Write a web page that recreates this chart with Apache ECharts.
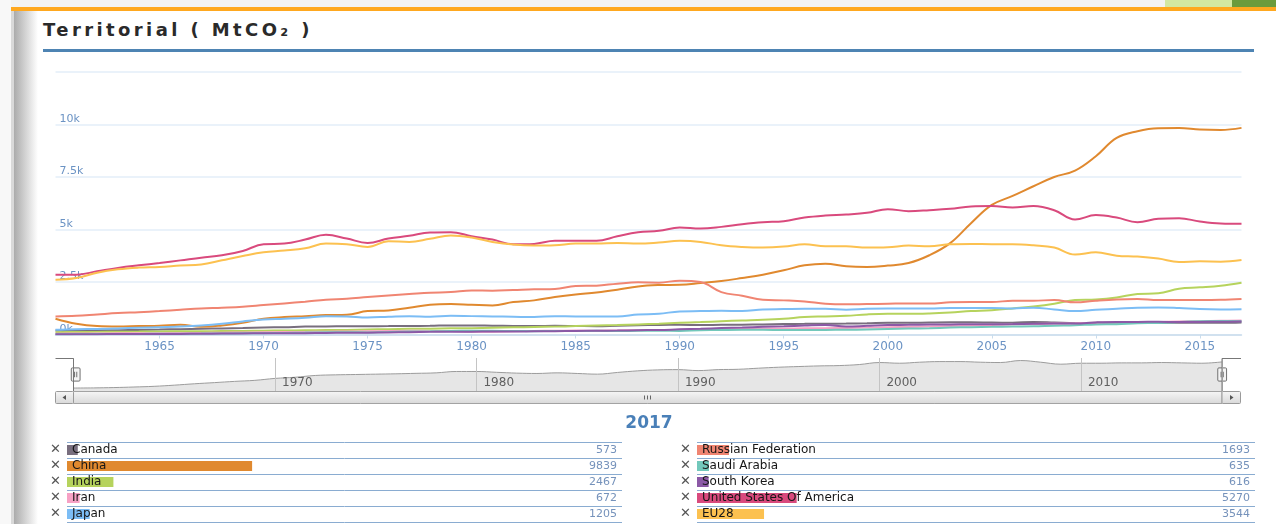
<!DOCTYPE html>
<html>
<head>
<meta charset="utf-8">
<title>Territorial ( MtCO₂ )</title>
<script src="https://cdn.jsdelivr.net/npm/echarts@6/dist/echarts.min.js"></script>
<style>
html,body{margin:0;padding:0;background:#fff;}
#page{position:relative;width:1276px;height:524px;overflow:hidden;background:#fff;}
#topbar{position:absolute;left:0;top:0;width:1276px;height:7px;background:#f3f3f3;}
#green1{position:absolute;left:1165px;top:0;width:67px;height:7px;background:#d3e8a2;}
#green2{position:absolute;left:1232px;top:0;width:44px;height:7px;background:#6b9b3c;}
#orange{position:absolute;left:11px;top:7px;width:1265px;height:4px;background:#ffa81f;}
#leftedge{position:absolute;left:0;top:0;width:11px;height:524px;background:#f8f8f8;}
#leftstrip{position:absolute;left:11px;top:11px;width:3px;height:513px;background:#d9d9d9;}
#shadow{position:absolute;left:14px;top:11px;width:24px;height:513px;background:linear-gradient(to right,#ababab,rgba(255,255,255,0));}
#title{position:absolute;left:43px;top:19px;font:bold 18px "DejaVu Sans",sans-serif;letter-spacing:3.4px;color:#2a2a2a;white-space:nowrap;}
#rule{position:absolute;left:43px;top:49px;width:1211px;height:3px;background:#4e84b3;}
#chart{position:absolute;left:0;top:0;width:1276px;height:524px;}
</style>
</head>
<body>
<div id="page">
  <div id="topbar"></div>
  <div id="green1"></div>
  <div id="green2"></div>
  <div id="orange"></div>
  <div id="leftedge"></div>
  <div id="leftstrip"></div>
  <div id="shadow"></div>
  <div id="title">Territorial ( MtCO₂ )</div>
  <div id="rule"></div>
  <div id="chart"></div>
</div>
<script>
// years 1960 .. 2017
var years = [];
for (var y = 1960; y <= 2017; y++) years.push(y);

var names = ['Canada', 'China', 'India', 'Iran', 'Japan',
    'Russian Federation', 'Saudi Arabia', 'South Korea', 'United States Of America', 'EU28'];
var colors = ['#786e7e', '#e0892f', '#b6d35d', '#f7a1c5', '#7cbdf5',
    '#f08572', '#72c8bb', '#8c59a6', '#d94a7d', '#fcc150'];

var canada = [193,195,200,208,218,235,255,272,290,305,
    333,350,376,385,390,395,400,407,414,434,
    434,422,410,405,414,405,395,420,443,457,
    461,447,461,466,482,496,506,515,520,535,
    564,554,569,578,578,569,564,593,569,540,
    554,554,559,559,564,559,554,573];
var china = [750,510,400,380,400,415,460,365,430,555,
    750,830,875,925,940,1115,1145,1275,1415,1450,
    1415,1385,1545,1625,1785,1910,2005,2135,2290,2355,
    2370,2450,2545,2690,2850,3055,3295,3375,3250,3215,
    3280,3405,3775,4350,5300,6170,6600,7060,7500,7805,
    8490,9360,9680,9820,9830,9760,9740,9839];
var india = [110,118,125,133,138,148,150,155,165,170,
    180,190,200,210,220,240,255,270,275,295,
    300,320,340,360,375,400,425,450,480,515,
    555,590,635,670,700,750,830,860,890,955,
    985,985,1005,1050,1115,1160,1240,1335,1465,1640,
    1670,1765,1925,1960,2180,2245,2325,2467];
var iran = [40,45,50,55,60,65,70,75,85,95,
    105,115,125,135,140,150,165,175,170,165,
    130,135,150,170,175,185,180,195,205,215,
    225,240,250,265,280,285,295,300,310,330,
    345,360,385,405,425,450,480,500,520,535,
    560,575,590,600,625,630,650,672];
var japan = [225,255,265,290,320,350,380,430,510,620,
    715,750,795,875,860,810,845,875,845,890,
    875,860,845,830,875,860,860,860,955,985,
    1100,1115,1130,1115,1195,1210,1225,1225,1180,1225,
    1240,1240,1240,1260,1260,1260,1240,1275,1195,1115,
    1180,1225,1275,1290,1260,1210,1195,1205];
var russia = [860,890,955,1020,1065,1115,1180,1240,1275,1320,
    1400,1480,1560,1655,1705,1785,1860,1925,1990,2020,
    2100,2085,2115,2150,2165,2310,2325,2420,2485,2470,
    2565,2500,2020,1845,1655,1625,1575,1465,1435,1450,
    1465,1480,1480,1530,1545,1545,1610,1610,1640,1530,
    1610,1670,1690,1640,1640,1640,1650,1693];
var saudi = [15,18,22,25,28,32,38,42,48,55,
    60,75,90,110,110,100,120,140,150,170,
    175,180,165,160,170,165,175,165,175,180,
    170,200,215,225,225,215,215,220,225,240,
    260,280,300,330,350,365,380,390,420,440,
    480,490,540,550,600,630,640,635];
var southKorea = [12,14,17,19,21,24,29,36,44,51,
    56,62,64,75,80,87,95,110,125,135,
    135,140,140,150,160,170,180,185,205,215,
    245,270,305,335,365,395,425,450,380,415,
    450,460,475,480,490,490,495,510,520,520,
    575,600,600,605,595,600,605,616];
var usa = [2850,2850,3010,3170,3295,3405,3530,3660,3770,3980,
    4300,4330,4520,4745,4570,4360,4570,4700,4855,4870,
    4680,4520,4300,4315,4460,4460,4460,4680,4870,4935,
    5095,5045,5125,5255,5350,5395,5570,5665,5715,5795,
    5970,5875,5920,5985,6095,6115,6050,6115,5920,5475,
    5685,5570,5350,5510,5540,5380,5285,5270];
var eu28 = [2610,2690,2945,3105,3185,3215,3280,3330,3535,3740,
    3915,3995,4105,4330,4300,4170,4440,4410,4555,4710,
    4615,4410,4280,4235,4250,4330,4330,4360,4330,4380,
    4460,4410,4250,4170,4140,4185,4300,4200,4200,4140,
    4155,4235,4200,4300,4315,4300,4300,4250,4140,3805,
    3915,3755,3710,3615,3455,3485,3470,3544];

var allData = [canada, china, india, iran, japan, russia, saudi, southKorea, usa, eu28];

function pairs(arr) {
    var out = [];
    for (var i = 0; i < years.length; i++) {
        out.push([years[i], arr[i]]);
    }
    return out;
}

function yearLabel(v) { return String(v); }

var axisBlue = '#6b93c4';
var font = 'DejaVu Sans';

var series = [];
for (var i = 0; i < names.length; i++) {
    series.push({
        name: names[i],
        type: 'line',
        xAxisIndex: 0,
        yAxisIndex: 0,
        data: pairs(allData[i]),
        smooth: 0.4,
        showSymbol: false,
        lineStyle: { color: colors[i], width: 2 },
        itemStyle: { color: colors[i] },
        z: 2 + i
    });
}

// navigator (shows the first series)
series.push({
    type: 'line',
    xAxisIndex: 1,
    yAxisIndex: 1,
    data: pairs(canada),
    smooth: 0.4,
    showSymbol: false,
    silent: true,
    lineStyle: { color: '#9c9c9c', width: 1 },
    areaStyle: { color: '#e6e6e6', opacity: 1 }
});

// 2017 table, two columns of five rows
function tableSeries(start, gridNo) {
    var rows = [];
    for (var i = start; i < start + 5; i++) {
        rows.push({ name: names[i], value: allData[i][allData[i].length - 1], itemStyle: { color: colors[i] } });
    }
    return {
        type: 'bar',
        xAxisIndex: gridNo,
        yAxisIndex: gridNo == 2 ? 2 : 4,
        data: rows,
        barWidth: 10,
        silent: true,
        label: {
            show: true,
            position: 'insideLeft',
            distance: 5,
            formatter: '{b}',
            color: '#161616',
            fontSize: 12,
            fontFamily: font
        }
    };
}
series.push(tableSeries(0, 2));
series.push(tableSeries(5, 3));

function lastValues(start) {
    var out = [];
    for (var i = start; i < start + 5; i++) out.push(String(allData[i][allData[i].length - 1]));
    return out;
}

function tableAxes(start, gridNo) {
    return [{
        gridIndex: gridNo,
        type: 'category',
        inverse: true,
        data: names.slice(start, start + 5),
        axisLine: { show: false },
        axisTick: { show: false },
        axisLabel: {
            interval: 0,
            margin: 6,
            formatter: function () { return '✕'; },
            color: '#555',
            fontSize: 13,
            fontFamily: font
        },
        splitLine: { show: true, interval: 0, lineStyle: { color: '#8aacd1', width: 1 } }
    }, {
        gridIndex: gridNo,
        type: 'category',
        position: 'right',
        inverse: true,
        data: lastValues(start),
        axisLine: { show: false },
        axisTick: { show: false },
        splitLine: { show: false },
        axisLabel: { interval: 0, inside: true, margin: 5, color: '#7592bb', fontSize: 11, fontFamily: font }
    }];
}

var grad = {
    type: 'linear', x: 0, y: 0, x2: 0, y2: 1,
    colorStops: [{ offset: 0, color: '#f7f7f7' }, { offset: 1, color: '#d8d8d8' }]
};

var option = {
    animation: false,
    textStyle: { fontFamily: font },
    grid: [
        { left: 55.5, top: 72, width: 1186, height: 262.5, outerBoundsMode: 'none' },
        { left: 73.5, top: 358, width: 1148.5, height: 33, outerBoundsMode: 'none' },
        { left: 67, top: 442, width: 555, height: 80, outerBoundsMode: 'none' },
        { left: 697, top: 442, width: 558, height: 80, outerBoundsMode: 'none' }
    ],
    xAxis: [{
        gridIndex: 0,
        type: 'value',
        min: 1960,
        max: 2017,
        interval: 5,
        axisLine: { show: true, lineStyle: { color: '#c9dcec', width: 1.5 } },
        axisTick: { show: true, length: 4, lineStyle: { color: '#c9dcec' } },
        splitLine: { show: false },
        axisLabel: {
            showMinLabel: false, showMaxLabel: false, margin: 6,
            color: axisBlue, fontSize: 12, formatter: yearLabel
        }
    }, {
        gridIndex: 1,
        type: 'value',
        min: 1960,
        max: 2017,
        interval: 10,
        z: 5,
        axisLine: { show: false },
        axisTick: { show: false },
        splitLine: { show: true, lineStyle: { color: '#c4c4c4', width: 1 } },
        axisLabel: {
            inside: true, showMinLabel: false, showMaxLabel: false,
            align: 'left', verticalAlign: 'bottom', margin: 2, padding: [0, 0, 0, 7],
            color: '#606060', fontSize: 12, formatter: yearLabel
        }
    }, {
        gridIndex: 2, type: 'value', min: 0, max: 29500, show: false
    }, {
        gridIndex: 3, type: 'value', min: 0, max: 29500, show: false
    }],
    yAxis: [{
        gridIndex: 0,
        type: 'value',
        min: 0,
        max: 12500,
        interval: 2500,
        axisLine: { show: false },
        axisTick: { show: false },
        splitLine: { show: true, lineStyle: { color: '#e3eef8', width: 1.5 } },
        axisLabel: {
            inside: true, showMaxLabel: false, verticalAlign: 'bottom', margin: 4,
            color: axisBlue, fontSize: 11,
            formatter: function (v) { return (v / 1000) + 'k'; }
        }
    }, {
        gridIndex: 1, type: 'value', min: 150, max: 630, show: false
    }].concat(tableAxes(0, 2)).concat(tableAxes(5, 3)),
    dataZoom: [{
        type: 'slider',
        xAxisIndex: 0,
        filterMode: 'none',
        left: 73.5,
        width: 1148.5,
        top: 358,
        height: 33,
        start: 0,
        end: 100,
        showDetail: false,
        showDataShadow: false,
        brushSelect: false,
        backgroundColor: 'rgba(0,0,0,0)',
        fillerColor: 'rgba(0,0,0,0)',
        borderColor: 'rgba(0,0,0,0)',
        handleIcon: 'path://M1.5,0.5 H7.5 Q8.5,0.5 8.5,1.5 V11.5 Q8.5,12.5 7.5,12.5 H1.5 Q0.5,12.5 0.5,11.5 V1.5 Q0.5,0.5 1.5,0.5 Z M3.5,4 V9 M5.5,4 V9',
        handleSize: '40%',
        handleStyle: { color: '#f4f4f4', borderColor: '#707070', borderWidth: 1 },
        moveHandleSize: 0,
        moveHandleStyle: { opacity: 0 },
        emphasis: {
            handleStyle: { color: '#f4f4f4', borderColor: '#707070', borderWidth: 1 },
            moveHandleStyle: { opacity: 0 }
        }
    }],
    graphic: [
        // navigator outline
        { type: 'polyline', z: 100, shape: { points: [[55.5, 358.5], [73.5, 358.5], [73.5, 391]] },
          style: { stroke: '#777', lineWidth: 1, fill: null } },
        { type: 'polyline', z: 100, shape: { points: [[1222, 391], [1222, 358.5], [1241, 358.5]] },
          style: { stroke: '#777', lineWidth: 1, fill: null } },
        // scrollbar
        { type: 'rect', z: 100, shape: { x: 73.5, y: 391.5, width: 1148.5, height: 12 },
          style: { fill: grad, stroke: '#a3a3a3', lineWidth: 1 } },
        { type: 'rect', z: 100, shape: { x: 55.5, y: 391.5, width: 18, height: 12, r: 1 },
          style: { fill: grad, stroke: '#9a9a9a', lineWidth: 1 } },
        { type: 'rect', z: 100, shape: { x: 1222, y: 391.5, width: 18.5, height: 12, r: 1 },
          style: { fill: grad, stroke: '#9a9a9a', lineWidth: 1 } },
        { type: 'polygon', z: 101, shape: { points: [[66, 395], [66, 400], [62.5, 397.5]] }, style: { fill: '#555' } },
        { type: 'polygon', z: 101, shape: { points: [[1230, 395], [1230, 400], [1233.5, 397.5]] }, style: { fill: '#555' } },
        { type: 'line', z: 101, shape: { x1: 644.5, y1: 395.5, x2: 644.5, y2: 399.5 }, style: { stroke: '#666', lineWidth: 1 } },
        { type: 'line', z: 101, shape: { x1: 647.5, y1: 395.5, x2: 647.5, y2: 399.5 }, style: { stroke: '#666', lineWidth: 1 } },
        { type: 'line', z: 101, shape: { x1: 650.5, y1: 395.5, x2: 650.5, y2: 399.5 }, style: { stroke: '#666', lineWidth: 1 } },
        // table heading
        { type: 'text', z: 100, x: 649, y: 415,
          style: { text: '2017', textAlign: 'center', fill: '#4a80b8', font: 'bold 17px "DejaVu Sans"' } }
    ],
    series: series
};

var myChart = echarts.init(document.getElementById('chart'));
myChart.setOption(option, true);
</script>
</body>
</html>
